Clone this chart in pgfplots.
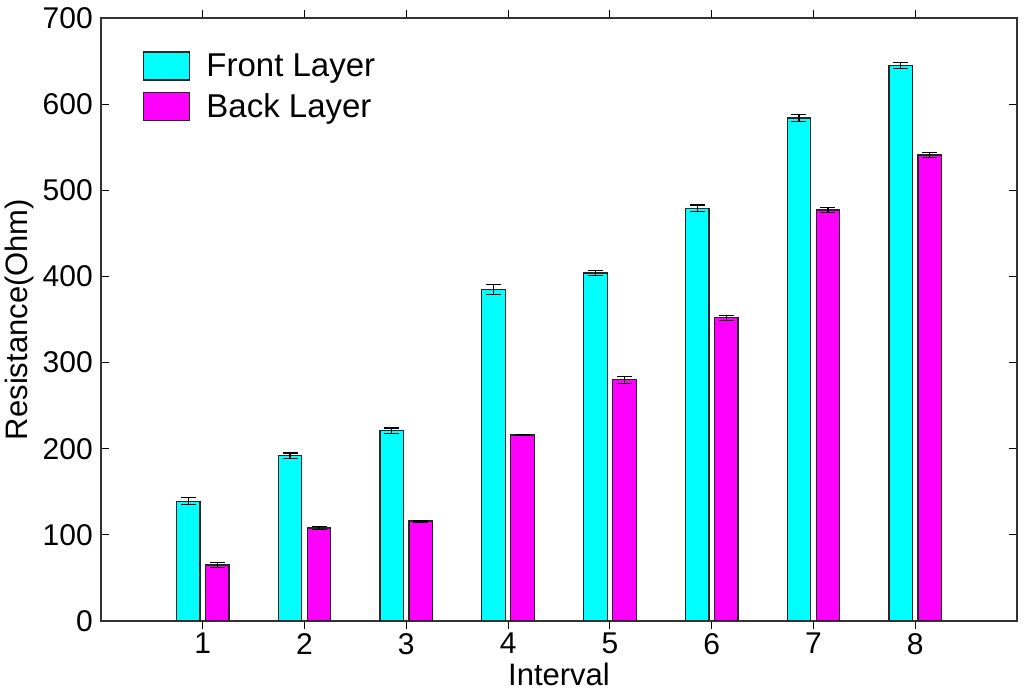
\documentclass[border=0pt]{standalone}
\usepackage{fontspec}
\setmainfont{Liberation Sans}
\usepackage{pgfplots}
\pgfplotsset{compat=1.18}
\definecolor{frontc}{RGB}{0,255,255}
\definecolor{backc}{RGB}{255,0,255}
\begin{document}
\begin{tikzpicture}
\useasboundingbox (-101pt,-71pt) rectangle (923pt,621pt);
\begin{axis}[
    at={(0,0)}, anchor=south west,
    scale only axis,
    width=916pt, height=603pt,
    xmin=0, xmax=9, ymin=0, ymax=700,
    xtick={1,...,8}, ytick={0,100,...,700},
    tick align=inside,
    major tick length=8pt,
    tick style={black, line width=1pt},
    axis line style={black!80, line width=1.2pt},
    /pgf/number format/assume math mode=true,
    ticklabel style={font=\fontsize{30}{36}\selectfont},
    yticklabel style={inner sep=0pt, xshift=-8pt},
    xticklabel style={inner sep=0pt, yshift=-4pt},
    label style={font=\fontsize{31}{36}\selectfont},
    xlabel={Interval},
    ylabel={Resistance(Ohm)},
    xlabel style={at={(axis description cs:0.5,0)}, anchor=base, yshift=-64pt},
    ylabel style={at={(axis description cs:0,0.5)}, anchor=base, yshift=73pt},
    ybar, bar width=23.5pt,
    legend style={at={(axis description cs:0.0459,0.945)}, anchor=north west,
        draw=none, fill=none, inner sep=0pt, row sep=11pt,
        font=\fontsize{33}{38}\selectfont,
        nodes={inner xsep=0pt, inner ysep=0pt},
        /tikz/every odd column/.append style={column sep=16pt}},
    legend image code/.code={\draw[#1, line width=1.2pt] (0pt,-14pt) rectangle (46pt,14pt);},
    legend cell align=left,
    error bars/y dir=both,
    error bars/y explicit,
    error bars/error mark options={rotate=90, mark size=7.5pt, line width=1.2pt, black},
    error bars/error bar style={line width=1.2pt, black},
]

% Front Layer
\addplot[fill=frontc, draw=black!85, line width=1.2pt, bar shift=-14.5pt] coordinates {
    (1,139) +- (0,4)
    (2,192) +- (0,3)
    (3,221) +- (0,3)
    (4,385) +- (0,6)
    (5,404) +- (0,3)
    (6,479) +- (0,4)
    (7,584) +- (0,4)
    (8,645) +- (0,3.5)
};

% Back Layer
\addplot[fill=backc, draw=black!85, line width=1.2pt, bar shift=14.5pt] coordinates {
    (1,65) +- (0,3)
    (2,108) +- (0,2)
    (3,116) +- (0,1)
    (4,216) +- (0,0.6)
    (5,280) +- (0,4)
    (6,352) +- (0,3)
    (7,477) +- (0,3)
    (8,541) +- (0,2.7)
};

\legend{Front Layer, Back Layer}
\end{axis}
\end{tikzpicture}
\end{document}
